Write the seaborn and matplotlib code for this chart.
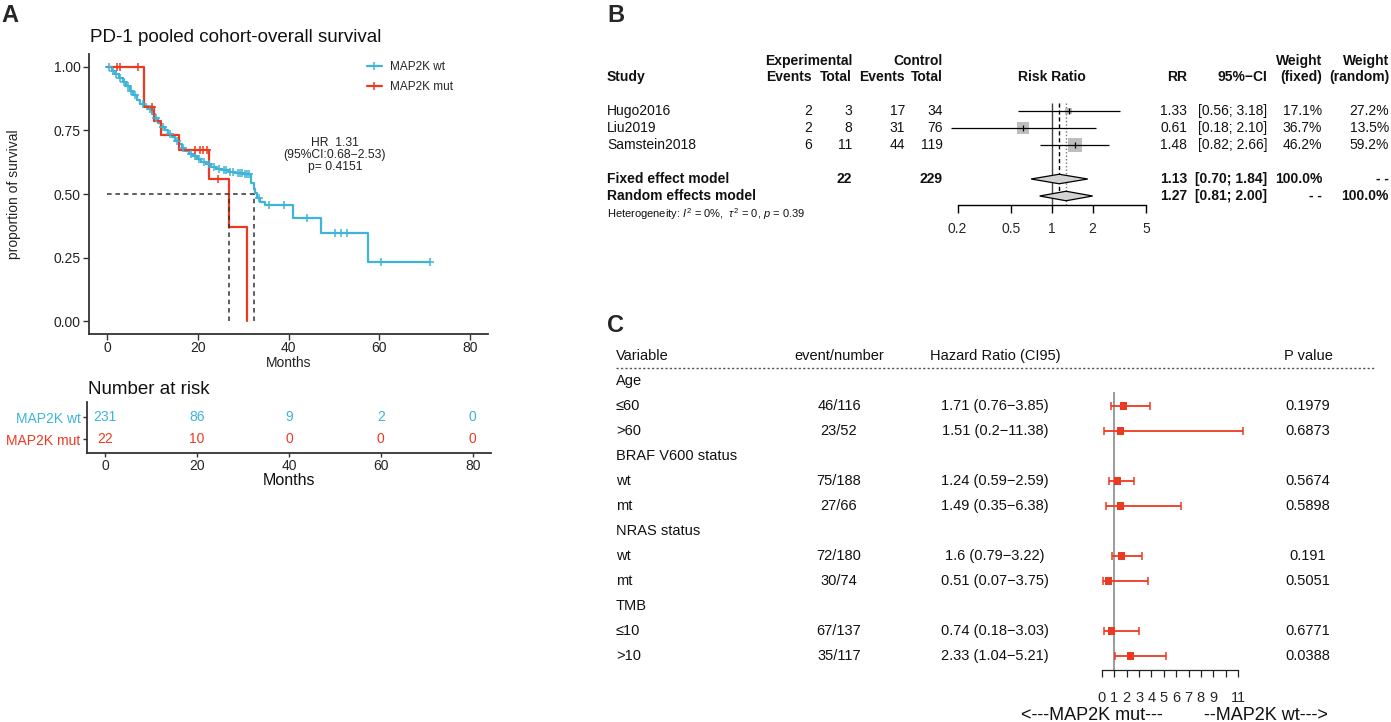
import numpy as np
import pandas as pd
import seaborn as sns
import matplotlib.pyplot as plt
from matplotlib.lines import Line2D
from matplotlib.transforms import blended_transform_factory

W, H = 1391, 722
CYAN = "#3EB4D8"
RED = "#EC3A22"

# ---- panel A: Kaplan-Meier steps ----
wt_time = [0, 1.0, 1.8, 2.6, 3.4, 4.2, 5.0, 5.8, 6.6, 7.3, 8.2, 9.0, 9.8, 10.5, 11.2,
           11.9, 12.7, 13.5, 14.3, 15.0, 15.8, 16.5, 17.2, 18.0, 18.9, 19.8, 20.8,
           21.8, 22.9, 24.0, 25.3, 26.8, 28.3, 30.0, 31.8, 32.3, 32.7, 33.1, 33.8,
           34.8, 41.1, 47.1, 57.6, 71.3]
wt_surv = [1.0, 0.985, 0.97, 0.955, 0.94, 0.925, 0.905, 0.888, 0.868, 0.855, 0.845,
           0.832, 0.815, 0.798, 0.78, 0.764, 0.75, 0.736, 0.722, 0.708, 0.695, 0.682,
           0.668, 0.658, 0.648, 0.637, 0.627, 0.617, 0.608, 0.6, 0.594, 0.588, 0.584,
           0.58, 0.545, 0.52, 0.503, 0.485, 0.47, 0.457, 0.405, 0.348, 0.233, 0.233]
wt_cens = [0.5, 1.2, 2.0, 2.8, 3.8, 4.5, 5.3, 6.2, 7.8, 9.4, 10.8, 12.3, 13.8, 15.4,
           16.8, 18.5, 19.3, 20.3, 21.3, 22.4, 23.5, 24.6, 25.8, 26.3, 27.0, 27.8,
           28.8, 29.3, 29.8, 30.3, 30.8, 31.2, 33.4, 35.8, 39.0, 44.0, 50.3, 51.5,
           52.8, 60.5, 71.3]

mut_time = [0, 8.1, 10.3, 11.9, 15.8, 22.5, 26.9, 30.9]
mut_surv = [1.0, 0.842, 0.786, 0.73, 0.671, 0.559, 0.371, 0.0]
mut_cens = [2.1, 2.9, 6.8, 9.8, 19.4, 20.5, 21.2, 22.0, 24.5]

median_wt, median_mut = 32.3, 26.9

risk_times = [0, 20, 40, 60, 80]
risk_wt = [231, 86, 9, 2, 0]
risk_mut = [22, 10, 0, 0, 0]

# ---- panel B: meta-analysis ----
studies = ["Hugo2016", "Liu2019", "Samstein2018"]
exp_events = [2, 2, 6]
exp_total = [3, 8, 11]
ctrl_events = [17, 31, 44]
ctrl_total = [34, 76, 119]
rr = [1.33, 0.61, 1.48]
rr_lo = [0.56, 0.18, 0.82]
rr_hi = [3.18, 2.10, 2.66]
w_fixed = [17.1, 36.7, 46.2]
w_random = [27.2, 13.5, 59.2]
fixed_est = (1.13, 0.70, 1.84)
random_est = (1.27, 0.81, 2.00)

# ---- panel C: subgroup hazard ratios ----
c_labels = ["Age", "≤60", ">60", "BRAF V600 status", "wt", "mt", "NRAS status",
            "wt", "mt", "TMB", "≤10", ">10"]
c_events = ["", "46/116", "23/52", "", "75/188", "27/66", "", "72/180", "30/74",
            "", "67/137", "35/117"]
c_hr = [np.nan, 1.71, 1.51, np.nan, 1.24, 1.49, np.nan, 1.6, 0.51, np.nan, 0.74, 2.33]
c_lo = [np.nan, 0.76, 0.2, np.nan, 0.59, 0.35, np.nan, 0.79, 0.07, np.nan, 0.18, 1.04]
c_hi = [np.nan, 3.85, 11.38, np.nan, 2.59, 6.38, np.nan, 3.22, 3.75, np.nan, 3.03, 5.21]
c_p = ["", "0.1979", "0.6873", "", "0.5674", "0.5898", "", "0.191", "0.5051", "",
       "0.6771", "0.0388"]


def fbox(x0, y0, x1, y1):
    return [x0 / W, 1 - y1 / H, (x1 - x0) / W, (y1 - y0) / H]


def surv_at(times, st, ss):
    idx = np.searchsorted(st, times, side="right") - 1
    return np.asarray(ss)[idx]


sns.set_theme(style="ticks")
plt.rcParams["font.family"] = ["Liberation Sans", "DejaVu Sans"]
plt.rcParams["mathtext.fontset"] = "custom"
plt.rcParams["mathtext.rm"] = "Liberation Sans"
plt.rcParams["mathtext.it"] = "Liberation Sans:italic"

fig = plt.figure(figsize=(W / 100, H / 100), dpi=100)


def ftext(x, y, s, **kw):
    kw.setdefault("va", "center")
    fig.text(x / W, 1 - y / H, s, **kw)


# ================= A =================
ftext(1, 16, "A", fontsize=17, fontweight="bold")
ftext(90, 38, "PD-1 pooled cohort-overall survival", fontsize=13.5, color="#111111")

axA = fig.add_axes(fbox(89, 54, 488, 334))
sns.lineplot(x=wt_time, y=wt_surv, drawstyle="steps-post", color=CYAN, lw=1.6,
             estimator=None, sort=False, ax=axA)
sns.lineplot(x=mut_time, y=mut_surv, drawstyle="steps-post", color=RED, lw=1.6,
             estimator=None, sort=False, ax=axA)
sns.scatterplot(x=wt_cens, y=surv_at(wt_cens, wt_time, wt_surv), marker="+", s=32,
                color=CYAN, linewidth=1.1, ax=axA, zorder=3)
sns.scatterplot(x=mut_cens, y=surv_at(mut_cens, mut_time, mut_surv), marker="+", s=32,
                color=RED, linewidth=1.1, ax=axA, zorder=3)

dash = (0, (3, 2.5))
axA.plot([0, median_wt], [0.5, 0.5], ls=dash, color="#333333", lw=1.1)
axA.vlines([median_mut, median_wt], 0, 0.5, ls=dash, color="#333333", lw=1.1)

axA.set_xlim(-4, 84)
axA.set_ylim(-0.05, 1.05)
axA.set_xticks(risk_times)
axA.set_yticks([0, 0.25, 0.5, 0.75, 1.0])
axA.set_yticklabels(["0.00", "0.25", "0.50", "0.75", "1.00"])
axA.tick_params(labelsize=10, length=4, width=1, color="#333333", pad=2,
                labelcolor="#222222")
axA.tick_params(axis="x", pad=1)
axA.set_xlabel("Months", fontsize=10, labelpad=1, color="#222222")
axA.set_ylabel("proportion of survival", fontsize=10, color="#222222")
axA.yaxis.set_label_coords(21 / W, 0.5,
                           transform=blended_transform_factory(fig.transFigure, axA.transAxes))
for side in ["top", "right"]:
    axA.spines[side].set_visible(False)
for side in ["left", "bottom"]:
    axA.spines[side].set_linewidth(1.3)
    axA.spines[side].set_color("#333333")

handles = [Line2D([], [], color=CYAN, lw=1.6, marker="+", ms=6, mew=1.1),
           Line2D([], [], color=RED, lw=1.6, marker="+", ms=6, mew=1.1)]
axA.legend(handles, ["MAP2K wt", "MAP2K mut"], loc="upper left", frameon=False,
           bbox_to_anchor=(367 / W, 1 - 61 / H), bbox_transform=fig.transFigure,
           fontsize=8.5, handlelength=1.27, handletextpad=0.7, labelspacing=0.7,
           borderpad=0, borderaxespad=0)

ftext(335, 143, "HR  1.31", fontsize=8.7, ha="center", color="#222222")
ftext(335, 155, "(95%CI:0.68−2.53)", fontsize=8.7, ha="center", color="#222222")
ftext(335, 167, "p= 0.4151", fontsize=8.7, ha="center", color="#222222")

# risk table
ftext(88, 389, "Number at risk", fontsize=13.5, color="#111111")
axR = fig.add_axes(fbox(87, 402, 491, 453))
axR.set_xlim(-4, 84)
axR.set_ylim(-0.636, 1.682)
for t, nw, nm in zip(risk_times, risk_wt, risk_mut):
    axR.text(t, 1, str(nw), color=CYAN, ha="center", va="center", fontsize=10)
    axR.text(t, 0, str(nm), color=RED, ha="center", va="center", fontsize=10)
axR.set_xticks(risk_times)
axR.set_yticks([1, 0])
axR.set_yticklabels(["MAP2K wt", "MAP2K mut"])
for lab, col in zip(axR.get_yticklabels(), [CYAN, RED]):
    lab.set_color(col)
axR.tick_params(labelsize=10, length=3, width=1, color="#333333", pad=1.5)
axR.set_xlabel("Months", fontsize=11.5, labelpad=0, color="#111111")
for side in ["top", "right"]:
    axR.spines[side].set_visible(False)
for side in ["left", "bottom"]:
    axR.spines[side].set_linewidth(1.3)
    axR.spines[side].set_color("#333333")

# ================= B =================
ftext(607, 16, "B", fontsize=17, fontweight="bold")
axB = fig.add_axes(fbox(930, 95, 1170, 205))
axB.set_xscale("log")
axB.set_xlim(0.1248, 7.48)
axB.set_ylim(5.529, -0.941)
rowsB = [0, 1, 2]

axB.vlines(1, -0.47, 5.53, color="#444444", lw=1.0)
axB.vlines(fixed_est[0], -0.47, 5.25, color="black", lw=1.0, ls=(0, (3, 2)))
axB.vlines(random_est[0], -0.47, 5.53, color="#777777", lw=1.0, ls=(0, (1, 1.5)))

sns.scatterplot(x=rr, y=rowsB, size=w_fixed, sizes=(25, 102), marker="s",
                color="#BEBEBE", edgecolor="none", legend=False, ax=axB, zorder=2)
axB.hlines(rowsB, rr_lo, rr_hi, color="black", lw=0.9, zorder=3)
axB.scatter(rr, rowsB, marker="|", s=14, color="black", lw=0.9, zorder=4)

for row, (est, lo, hi) in zip([4, 5], [fixed_est, random_est]):
    h = 0.28
    axB.fill([lo, est, hi, est], [row, row - h, row, row + h], facecolor="#D3D3D3",
             edgecolor="black", lw=0.9, zorder=3)

for side in ["top", "right", "left"]:
    axB.spines[side].set_visible(False)
axB.spines["bottom"].set_bounds(0.2, 5)
axB.spines["bottom"].set_color("black")
axB.spines["bottom"].set_linewidth(1.0)
axB.set_xticks([0.2, 0.5, 1, 2, 5])
axB.set_xticklabels(["0.2", "0.5", "1", "2", "5"])
axB.xaxis.set_minor_locator(plt.NullLocator())
axB.set_yticks([])
axB.tick_params(axis="x", labelsize=10, length=6, width=1.0, color="black", pad=6)

transB = blended_transform_factory(fig.transFigure, axB.transData)


def btext(xpx, row, s, **kw):
    kw.setdefault("fontsize", 10)
    axB.text(xpx / W, row, s, transform=transB, va="center", color="#111111", **kw)


hdr1, hdr2 = (61 - 111) / 17, (77 - 111) / 17
btext(852, hdr1, "Experimental", ha="right", fontweight="bold")
btext(943, hdr1, "Control", ha="right", fontweight="bold")
btext(1322, hdr1, "Weight", ha="right", fontweight="bold")
btext(1389, hdr1, "Weight", ha="right", fontweight="bold")
btext(607, hdr2, "Study", ha="left", fontweight="bold")
for xp, s in [(812, "Events"), (852, "Total"), (905, "Events"), (943, "Total"),
              (1187, "RR"), (1267, "95%−CI"), (1322, "(fixed)"), (1389, "(random)")]:
    btext(xp, hdr2, s, ha="right", fontweight="bold")
btext(1052, hdr2, "Risk Ratio", ha="center", fontweight="bold")

for i, row in enumerate(rowsB):
    btext(607, row, studies[i], ha="left")
    btext(812, row, str(exp_events[i]), ha="right")
    btext(852, row, str(exp_total[i]), ha="right")
    btext(905, row, str(ctrl_events[i]), ha="right")
    btext(943, row, str(ctrl_total[i]), ha="right")
    btext(1187, row, f"{rr[i]:.2f}", ha="right")
    btext(1267, row, f"[{rr_lo[i]:.2f}; {rr_hi[i]:.2f}]", ha="right")
    btext(1322, row, f"{w_fixed[i]:.1f}%", ha="right")
    btext(1389, row, f"{w_random[i]:.1f}%", ha="right")

btext(607, 4, "Fixed effect model", ha="left", fontweight="bold")
btext(852, 4, str(sum(exp_total)), ha="right", fontweight="bold")
btext(943, 4, str(sum(ctrl_total)), ha="right", fontweight="bold")
btext(1187, 4, f"{fixed_est[0]:.2f}", ha="right", fontweight="bold")
btext(1267, 4, f"[{fixed_est[1]:.2f}; {fixed_est[2]:.2f}]", ha="right", fontweight="bold")
btext(1322, 4, "100.0%", ha="right", fontweight="bold")
btext(1389, 4, "- -", ha="right", fontweight="bold")
btext(607, 5, "Random effects model", ha="left", fontweight="bold")
btext(1187, 5, f"{random_est[0]:.2f}", ha="right", fontweight="bold")
btext(1267, 5, f"[{random_est[1]:.2f}; {random_est[2]:.2f}]", ha="right", fontweight="bold")
btext(1322, 5, "- -", ha="right", fontweight="bold")
btext(1389, 5, "100.0%", ha="right", fontweight="bold")
btext(607, (214 - 111) / 17,
      r"Heterogeneity: $I^2$ = 0%,  $\tau^2$ = 0, $p$ = 0.39", ha="left", fontsize=8)

# ================= C =================
ftext(607, 325, "C", fontsize=17, fontweight="bold")
axC = fig.add_axes(fbox(1090, 370, 1260, 670))
axC.set_xlim(-0.97, 12.78)
axC.set_ylim(11.56, -0.44)
rowsC = np.arange(len(c_labels))
dfC = pd.DataFrame({"row": rowsC, "hr": c_hr, "lo": c_lo, "hi": c_hi}).dropna()

axC.vlines(1, 0.44, 11.56, color="#8A8A8A", lw=1.2, zorder=1)
axC.errorbar(dfC["hr"], dfC["row"], xerr=[dfC["hr"] - dfC["lo"], dfC["hi"] - dfC["hr"]],
             fmt="none", ecolor=RED, elinewidth=1.3, capsize=2.6, capthick=1.1, zorder=2)
sns.scatterplot(data=dfC, x="hr", y="row", marker="s", s=26, color=RED,
                edgecolor="none", ax=axC, zorder=3)
axC.set_xlabel("")
axC.set_ylabel("")
for side in ["top", "right", "left"]:
    axC.spines[side].set_visible(False)
axC.spines["bottom"].set_bounds(0, 11)
axC.spines["bottom"].set_color("#222222")
axC.spines["bottom"].set_linewidth(0.9)
axC.set_xticks(range(12))
axC.set_xticklabels([str(v) if v != 10 else "" for v in range(12)])
axC.set_yticks([])
axC.tick_params(axis="x", labelsize=10.5, length=5, width=0.9, color="#222222", pad=10)

transC = blended_transform_factory(fig.transFigure, axC.transData)


def ctext(xpx, row, s, **kw):
    axC.text(xpx / W, row, s, transform=transC, va="center", fontsize=10.5,
             color="#111111", **kw)


ctext(616, -1, "Variable", ha="left")
ctext(839, -1, "event/number", ha="center")
ctext(995, -1, "Hazard Ratio (CI95)", ha="center")
ctext(1308, -1, "P value", ha="center")
fig.add_artist(Line2D([616 / W, 1375 / W], [1 - 368 / H] * 2, ls=(0, (1.6, 1.6)),
                      color="#555555", lw=1.0))
for i in rowsC:
    ctext(616, i, c_labels[i], ha="left")
    ctext(839, i, c_events[i], ha="center")
    if not np.isnan(c_hr[i]):
        ctext(995, i, f"{c_hr[i]:g} ({c_lo[i]:g}−{c_hi[i]:g})", ha="center")
    ctext(1308, i, c_p[i], ha="center")

ftext(1092, 716, "<---MAP2K mut---", fontsize=13, ha="center", color="#111111")
ftext(1266, 716, "--MAP2K wt--->", fontsize=13, ha="center", color="#111111")

fig.savefig("out.png", dpi=100)
